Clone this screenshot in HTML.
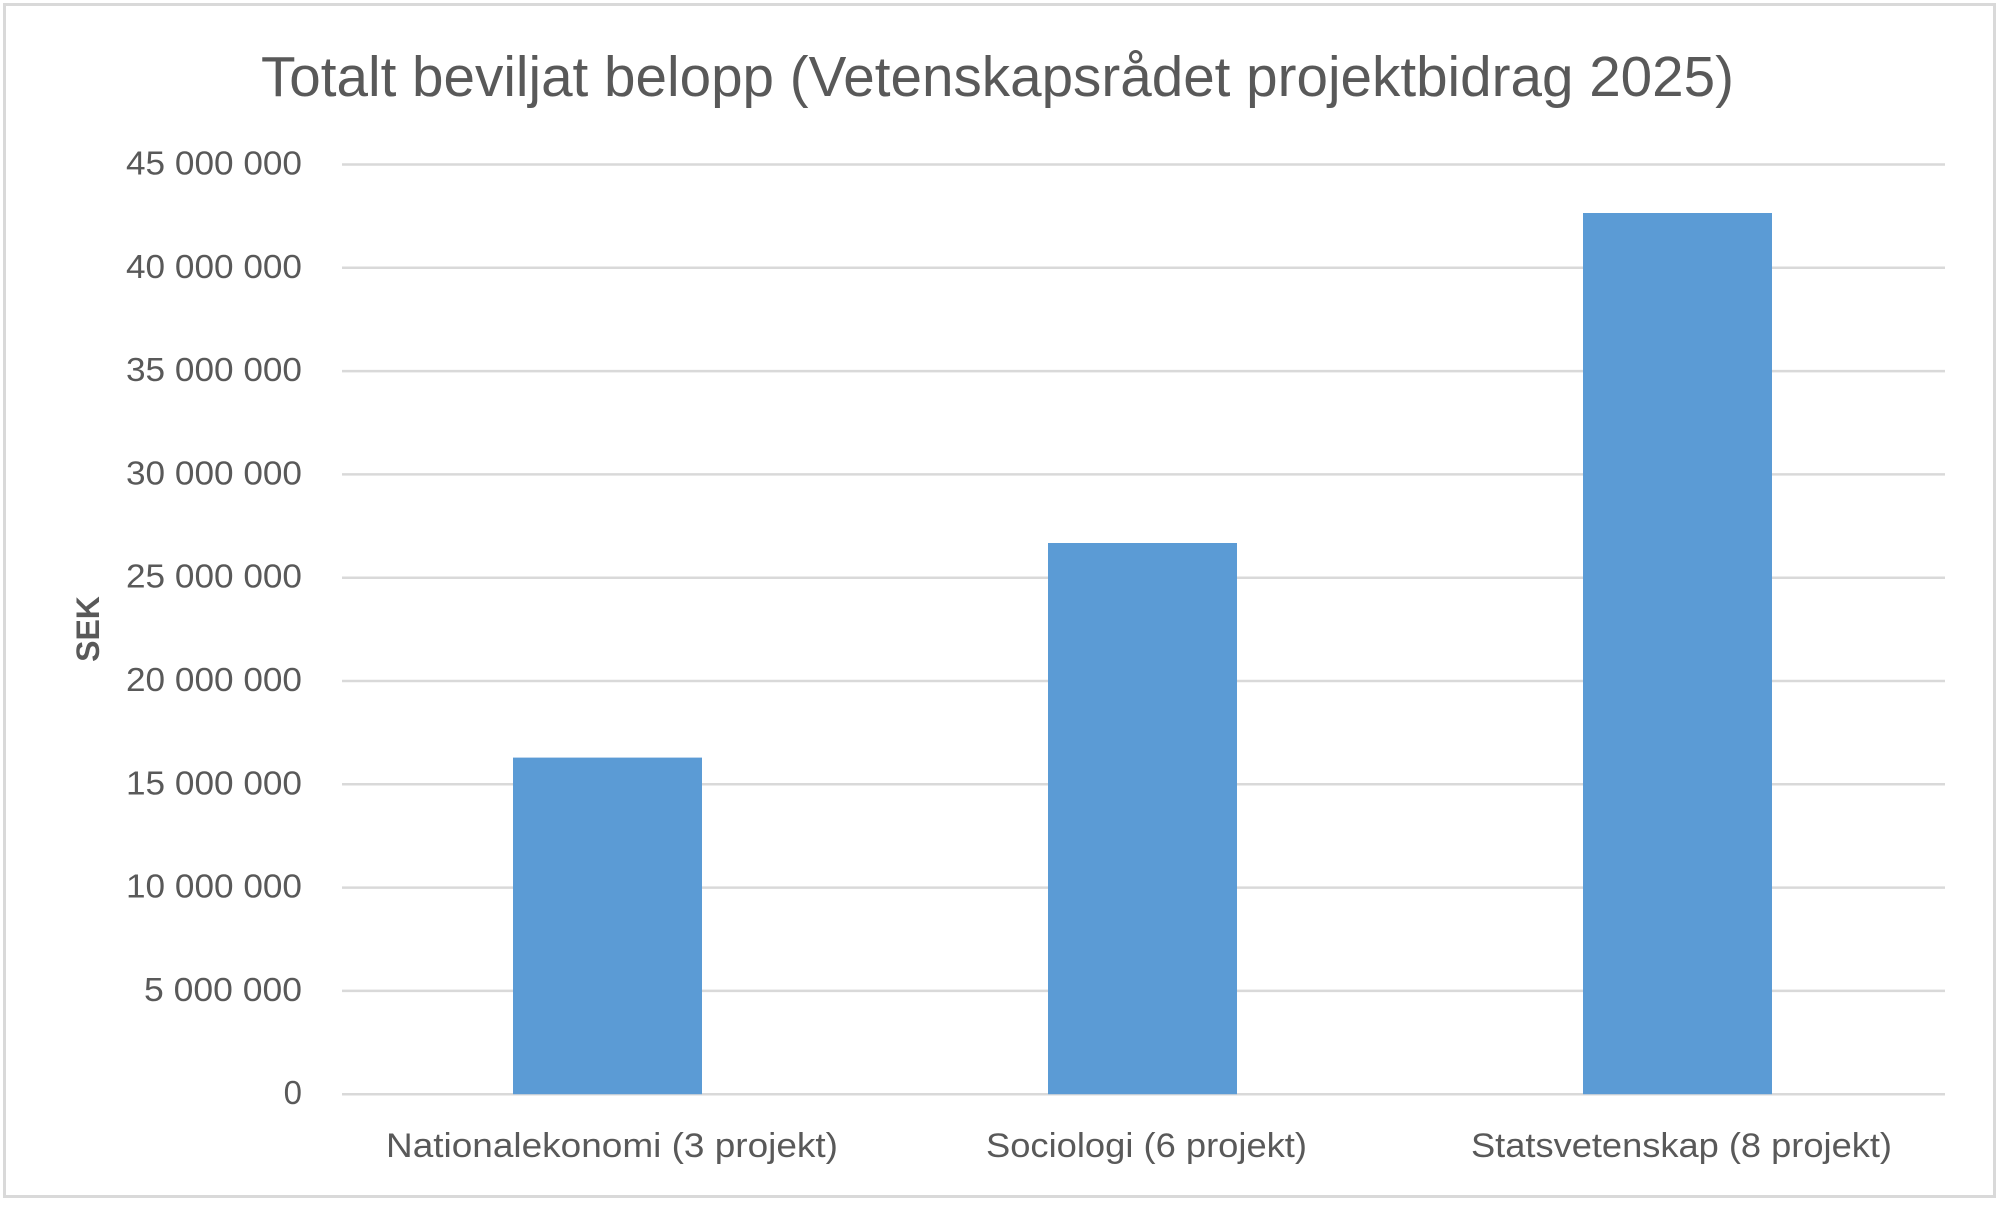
<!DOCTYPE html>
<html><head><meta charset="utf-8"><style>
html,body{margin:0;padding:0;background:#fff;}
svg{display:block;}
text{font-family:"Liberation Sans",sans-serif;fill:#595959;}
</style></head><body>
<svg width="2000" height="1205" viewBox="0 0 2000 1205" xmlns="http://www.w3.org/2000/svg">
<rect x="0" y="0" width="2000" height="1205" fill="#fff"/>
<rect x="4.5" y="4.5" width="1990" height="1192" fill="none" stroke="#d9d9d9" stroke-width="3"/>
<text x="261" y="96" font-size="57" textLength="1473" lengthAdjust="spacingAndGlyphs">Totalt beviljat belopp (Vetenskapsrådet projektbidrag 2025)</text>
<g stroke="#d9d9d9" stroke-width="2.5">
<line x1="342" x2="1945" y1="164.5" y2="164.5"/>
<line x1="342" x2="1945" y1="267.8" y2="267.8"/>
<line x1="342" x2="1945" y1="371.1" y2="371.1"/>
<line x1="342" x2="1945" y1="474.4" y2="474.4"/>
<line x1="342" x2="1945" y1="577.7" y2="577.7"/>
<line x1="342" x2="1945" y1="681" y2="681"/>
<line x1="342" x2="1945" y1="784.3" y2="784.3"/>
<line x1="342" x2="1945" y1="887.6" y2="887.6"/>
<line x1="342" x2="1945" y1="990.9" y2="990.9"/>
<line x1="342" x2="1945" y1="1094.2" y2="1094.2"/>
</g>
<g fill="#5b9bd5">
<rect x="513" y="757.6" width="189" height="336.6"/>
<rect x="1048" y="543" width="189" height="551.2"/>
<rect x="1583" y="213" width="189" height="881.2"/>
</g>
<g font-size="33" text-anchor="end">
<text x="302" y="174.5" textLength="176" lengthAdjust="spacingAndGlyphs">45 000 000</text>
<text x="302" y="277.8" textLength="176" lengthAdjust="spacingAndGlyphs">40 000 000</text>
<text x="302" y="381.1" textLength="176" lengthAdjust="spacingAndGlyphs">35 000 000</text>
<text x="302" y="484.4" textLength="176" lengthAdjust="spacingAndGlyphs">30 000 000</text>
<text x="302" y="587.7" textLength="176" lengthAdjust="spacingAndGlyphs">25 000 000</text>
<text x="302" y="691" textLength="176" lengthAdjust="spacingAndGlyphs">20 000 000</text>
<text x="302" y="794.3" textLength="176" lengthAdjust="spacingAndGlyphs">15 000 000</text>
<text x="302" y="897.6" textLength="176" lengthAdjust="spacingAndGlyphs">10 000 000</text>
<text x="302" y="1000.9" textLength="158" lengthAdjust="spacingAndGlyphs">5 000 000</text>
<text x="302" y="1104.2">0</text>
</g>
<g font-size="34">
<text x="386" y="1157" textLength="452" lengthAdjust="spacingAndGlyphs">Nationalekonomi (3 projekt)</text>
<text x="986" y="1157" textLength="321" lengthAdjust="spacingAndGlyphs">Sociologi (6 projekt)</text>
<text x="1471" y="1157" textLength="421" lengthAdjust="spacingAndGlyphs">Statsvetenskap (8 projekt)</text>
</g>
<text transform="translate(99,629) rotate(-90)" font-size="32" font-weight="bold" text-anchor="middle">SEK</text>
</svg>
</body></html>
